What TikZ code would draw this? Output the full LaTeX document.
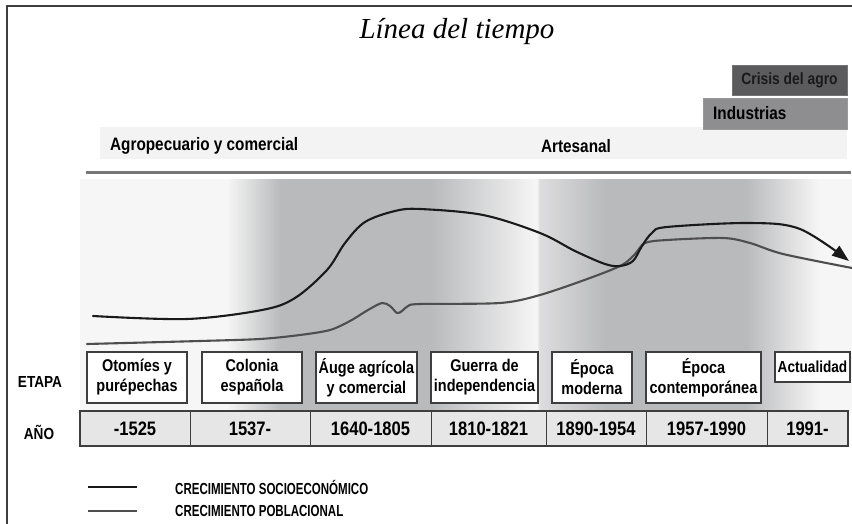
\documentclass[tikz,border=0pt]{standalone}
\usepackage{fontspec}
\setmainfont{Liberation Serif}
\newfontfamily\condsans[FakeStretch=0.85]{Liberation Sans}
\newfontfamily\legsans[FakeStretch=0.72]{Liberation Sans}
\usetikzlibrary{arrows.meta,positioning}

\definecolor{lightbg}{HTML}{F6F6F6}
\definecolor{midgray}{HTML}{B9BABC}
\definecolor{edgegray}{HTML}{DDDDDE}
\definecolor{bandgray}{HTML}{F2F3F2}
\definecolor{crisisgray}{HTML}{5B5B5D}
\definecolor{indgray}{HTML}{8E8E90}
\definecolor{cellgray}{HTML}{E6E6E6}
\definecolor{framegray}{HTML}{3E3E3E}
\definecolor{linegray}{HTML}{767676}
\definecolor{socio}{HTML}{1A1A1A}
\definecolor{pobla}{HTML}{4E4E4E}

% background of the curves (25bp..75bp is stretched over x=80..852)
\pgfdeclarehorizontalshading{tiempo}{100bp}{color(0bp)=(lightbg); color(34.5bp)=(lightbg);
  color(38bp)=(midgray); color(47.7bp)=(midgray); color(54.6bp)=(lightbg); color(54.75bp)=(edgegray);
  color(59bp)=(midgray); color(68.1bp)=(midgray); color(72.9bp)=(lightbg); color(100bp)=(lightbg)}

\tikzset{
  etapa/.style={draw=framegray, line width=1.1pt, fill=white, align=center, inner sep=0pt, outer sep=0pt,
    minimum height=51pt, font=\condsans\bfseries\fontsize{17}{20}\selectfont},
  anio/.style={draw=framegray, line width=1pt, fill=cellgray, inner sep=0pt, outer sep=0pt,
    minimum height=35pt, font=\condsans\bfseries\fontsize{19.5}{22}\selectfont},
  rowlabel/.style={font=\condsans\bfseries\fontsize{16}{19}\selectfont},
  banda/.style={font=\condsans\bfseries\fontsize{18}{21}\selectfont},
  legtext/.style={anchor=west, inner sep=0pt, font=\legsans\bfseries\fontsize{16}{18}\selectfont},
  curva/.style={line width=2.1pt, line cap=round, line join=round},
}

\begin{document}
\begin{tikzpicture}[x=1pt,y=-1pt]
  \useasboundingbox (0,0) rectangle (852,524);
  \fill[white] (0,0) rectangle (852,524);
  %frame
  \draw[framegray, line width=1.8pt] (7,524) -- (7,6) -- (852,6);
  %title
  \node[anchor=base, font=\itshape\fontsize{29}{34}\selectfont] (titulo) at (457,39) {Línea del tiempo};
  %top bars
  \node[fill=crisisgray, draw=crisisgray!85, minimum width=115pt, minimum height=30pt, inner sep=0pt,
    font=\condsans\bfseries\fontsize{16.3}{19}\selectfont, text=black!90] (crisis) at (789.5,80) {Crisis del agro};
  \node[fill=bandgray, minimum width=747pt, minimum height=32pt, inner sep=0pt, anchor=west] (banda) at (100,143) {};
  \node[fill=indgray, draw=indgray!90, text width=124pt, inner xsep=10pt, inner ysep=0pt, minimum height=31pt,
    align=left, anchor=west, banda] (industrias) at (703,113.5) {Industrias};
  \node[banda, anchor=west, inner sep=0pt] (agro) at (110,146) {Agropecuario y comercial};
  \node[banda, inner sep=0pt] (artesanal) at (576,146) {Artesanal};
  \draw[linegray, line width=3.5pt] (86,172.5) -- (851,172.5);
  %shaded background
  \shade[shading=tiempo] (80,180) rectangle (852,411);
  %curves
  \draw[curva, pobla] plot[smooth, tension=0.5] coordinates {(87,344) (200,341) (260,339) (300,335) (330,330)
    (350,321) (368,310) (382,303) (390,306) (397,313) (402,311) (408,306) (420,304) (500,303) (540,295)
    (590,278) (622,265) (635,254) (645,243) (667,240) (723,238) (750,243) (783,254) (852,268)};
  \draw[curva, socio, -{Triangle[length=17pt,width=12pt]}] plot[smooth, tension=0.55] coordinates {(93,316)
    (187,319) (262,310) (295,298) (327,270) (345,243) (365,222) (395,211) (420,209) (483,215) (540,233)
    (575,251) (605,264) (620,266) (633,261) (642,246) (652,233) (667,227) (750,223) (800,229) (849,261)};
  %etapas
  \node[rowlabel] (etapa) at (40,382) {ETAPA};
  \node[etapa, minimum width=100pt] (e1) at (137,377.5) {Otomíes y\\purépechas};
  \node[etapa, minimum width=100pt] (e2) at (252,377.5) {Colonia\\española};
  \node[etapa, minimum width=101pt] (e3) at (366.5,377.5) {Áuge agrícola\\y comercial};
  \node[etapa, minimum width=107pt] (e4) at (484.5,377.5) {Guerra de\\independencia};
  \node[etapa, minimum width=80pt] (e5) at (592,377.5) {Época\\moderna};
  \node[etapa, minimum width=115pt] (e6) at (703.5,377.5) {Época\\contemporánea};
  \node[etapa, minimum width=75pt, minimum height=30pt, font=\condsans\bfseries\fontsize{16}{19}\selectfont] (e7) at (812.5,367) {Actualidad};
  %años
  \node[rowlabel] (anio) at (39,432) {AÑO};
  \node[anio, minimum width=110pt] (a1) at (135,428.5) {-1525};
  \node[anio, minimum width=120pt] (a2) at (250,428.5) {1537-};
  \node[anio, minimum width=121pt] (a3) at (370.5,428.5) {1640-1805};
  \node[anio, minimum width=115pt] (a4) at (488.5,428.5) {1810-1821};
  \node[anio, minimum width=100pt] (a5) at (596,428.5) {1890-1954};
  \node[anio, minimum width=121pt] (a6) at (706.5,428.5) {1957-1990};
  \node[anio, minimum width=81pt] (a7) at (807.5,428.5) {1991-};
  \draw[framegray, line width=2.2pt] (a1.north west) rectangle (a7.south east);
  %legend
  \coordinate (s1) at (88,487);
  \coordinate (s2) at (137,487);
  \coordinate (p1) at (88,511);
  \coordinate (p2) at (137,511);
  \draw[socio, line width=2.6pt] (s1) -- (s2);
  \draw[pobla, line width=2.6pt] (p1) -- (p2);
  \node[legtext] (legsocio) at (175,487) {CRECIMIENTO SOCIOECONÓMICO};
  \node[legtext] (legpobla) at (175,511) {CRECIMIENTO POBLACIONAL};
\end{tikzpicture}
\end{document}
